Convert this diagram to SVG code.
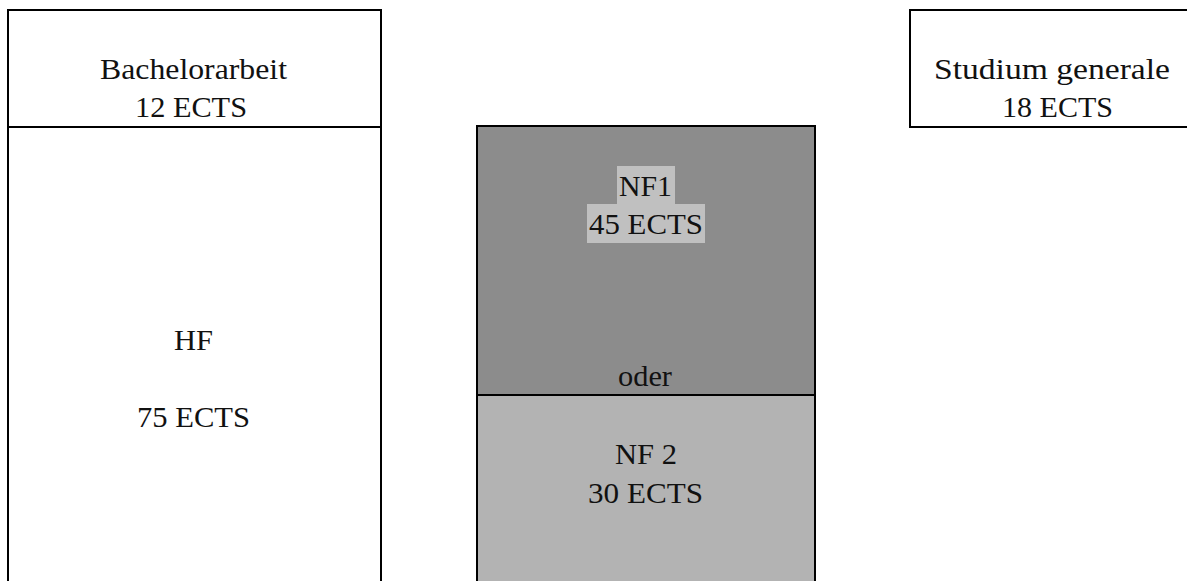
<svg xmlns="http://www.w3.org/2000/svg" width="1187" height="581" viewBox="0 0 1187 581">
<style>
.box{stroke:#000;stroke-width:2}
.t{font-family:"Liberation Serif","DejaVu Serif",serif;font-size:30px;fill:#111;text-anchor:middle}
.hl{fill:#c0c0c0}
</style>
<rect width="1187" height="581" fill="#fff"/>
<g id="hf">
<rect class="box" x="8" y="10" width="373" height="600" fill="#fff"/>
<line class="box" x1="8" y1="127" x2="381" y2="127"/>
<text class="t" x="193.5" y="350" textLength="39" lengthAdjust="spacingAndGlyphs">HF</text>
<text class="t" x="193.5" y="427" textLength="113" lengthAdjust="spacingAndGlyphs">75 ECTS</text>
</g>
<g id="bachelorarbeit">
<text class="t" x="193.5" y="79" textLength="187" lengthAdjust="spacingAndGlyphs">Bachelorarbeit</text>
<text class="t" x="191" y="117" textLength="112" lengthAdjust="spacingAndGlyphs">12 ECTS</text>
</g>
<g id="nf1">
<rect class="box" x="477" y="126" width="338" height="269" fill="#8c8c8c"/>
<rect class="hl" x="617" y="166" width="58" height="38"/>
<rect class="hl" x="587" y="204" width="118" height="39"/>
<text class="t" x="645.5" y="196" textLength="53" lengthAdjust="spacingAndGlyphs">NF1</text>
<text class="t" x="646" y="234" textLength="114" lengthAdjust="spacingAndGlyphs">45 ECTS</text>
<text class="t" x="645" y="386" textLength="54" lengthAdjust="spacingAndGlyphs">oder</text>
</g>
<g id="nf2">
<rect class="box" x="477" y="395" width="338" height="220" fill="#b3b3b3"/>
<text class="t" x="646" y="464" textLength="62" lengthAdjust="spacingAndGlyphs">NF 2</text>
<text class="t" x="645.5" y="503" textLength="115" lengthAdjust="spacingAndGlyphs">30 ECTS</text>
</g>
<g id="studium-generale">
<rect class="box" x="910" y="10" width="300" height="117" fill="#fff"/>
<text class="t" x="1052" y="79" textLength="236" lengthAdjust="spacingAndGlyphs">Studium generale</text>
<text class="t" x="1057.5" y="117" textLength="111" lengthAdjust="spacingAndGlyphs">18 ECTS</text>
</g>
<g id="connectors"/>
</svg>
